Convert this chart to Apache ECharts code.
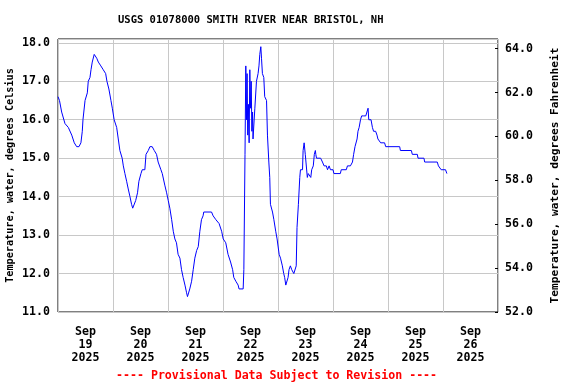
<!DOCTYPE html>
<html>
<head>
<meta charset="utf-8">
<script src="https://cdn.jsdelivr.net/npm/echarts@6/dist/echarts.min.js"></script>
<style>html,body{margin:0;padding:0;background:#fff;}#chart{width:576px;height:384px;}</style>
</head>
<body>
<div id="chart"></div>
<script>
// Hours since 2025-09-19 00:00
var hours = [0,0.65,1.6,3.05,4.5,6.0,7.1,8.15,9.15,10.0,10.6,10.9,11.8,12.8,13.2,13.95,14.4,14.95,15.8,16.9,17.6,18.7,19.75,20.8,21.35,22.2,23.1,23.7,24.5,25.6,26.3,27.0,28.0,28.5,29.2,29.95,30.65,31.4,32.1,32.6,33.3,33.9,34.7,35.3,36.2,36.75,37.9,38.4,39.4,40.1,41.1,42.0,43.0,43.7,44.9,45.5,46.6,47.4,48.1,48.8,49.6,50.3,51.0,51.7,52.4,53.2,53.9,54.6,55.4,56.1,56.5,57.2,57.5,58.3,59.0,59.7,60.5,61.2,61.9,62.6,63.3,63.6,67.0,67.7,68.9,70.3,71.4,72.1,73.2,74.2,75.3,76.2,76.7,77.6,78.6,79.0,80.8,81.1,81.6,81.95,82.25,82.5,82.8,83.1,83.4,83.7,84.0,84.3,84.6,84.9,85.1,85.9,86.6,87.3,87.7,88.05,88.5,88.8,89.2,89.8,90.2,91.0,91.4,92.0,92.4,92.7,93.6,94.2,95.0,95.6,96.5,97.1,97.9,98.5,98.9,99.4,99.95,100.4,100.8,101.4,102.0,102.9,103.7,103.95,104.3,104.9,105.5,105.8,106.7,106.95,107.4,107.9,108.2,108.8,109.2,109.7,110.3,110.7,111.4,111.85,112.3,112.5,112.8,114.6,115.4,116.1,117.1,117.6,118.3,118.9,120.0,120.4,123.2,123.6,125.8,126.3,127.6,128.5,129.0,129.6,130.5,130.9,131.4,132.0,132.5,133.4,134.3,134.8,135.3,135.6,136.0,136.6,137.2,137.7,138.6,139.2,139.6,140.4,140.8,142.5,143.0,149.1,149.4,154.2,154.6,156.8,157.1,159.7,160.0,165.5,166.0,167.2,169.1,169.7];
var tempC = [16.6,16.5,16.2,15.9,15.8,15.6,15.4,15.3,15.3,15.4,15.7,16.0,16.5,16.7,17.0,17.1,17.3,17.5,17.7,17.6,17.5,17.4,17.3,17.2,17.0,16.8,16.5,16.3,16.0,15.8,15.5,15.2,15.0,14.8,14.6,14.4,14.2,14.0,13.8,13.7,13.7,13.9,14.1,14.4,14.6,14.7,14.7,15.1,15.2,15.3,15.3,15.2,15.1,14.9,14.7,14.6,14.3,14.1,13.9,13.7,13.4,13.1,12.9,12.8,12.5,12.4,12.1,11.9,11.7,11.5,11.4,11.4,11.6,11.8,12.1,12.4,12.6,12.7,13.1,13.4,13.5,13.6,13.6,13.5,13.4,13.3,13.1,12.9,12.8,12.5,12.3,12.1,11.9,11.8,11.7,11.6,11.6,12.1,15.1,17.4,16.0,17.2,15.6,16.4,15.4,17.3,16.3,17.0,15.7,16.2,15.5,16.3,17.0,17.2,17.4,17.7,17.9,17.6,17.2,17.1,16.6,16.5,15.6,14.9,14.5,13.8,13.6,13.4,13.1,12.9,12.5,12.4,12.2,12.0,11.9,11.7,11.7,11.9,12.1,12.2,12.1,12.0,12.0,12.2,13.2,13.8,14.5,14.7,14.7,15.2,15.4,15.1,14.9,14.5,14.6,14.6,14.5,14.7,14.8,15.1,15.2,15.1,15.0,15.0,14.9,14.8,14.8,14.7,14.8,14.7,14.7,14.6,14.6,14.7,14.7,14.8,14.8,14.9,15.1,15.3,15.5,15.7,15.8,16.0,16.1,16.1,16.1,16.2,16.3,16.0,16.0,16.0,15.8,15.7,15.7,15.6,15.5,15.5,15.4,15.4,15.3,15.3,15.2,15.2,15.1,15.1,15.0,15.0,14.9,14.9,14.8,14.7,14.7,14.6];
var dayLabels = ['Sep\n19\n2025','Sep\n20\n2025','Sep\n21\n2025','Sep\n22\n2025','Sep\n23\n2025','Sep\n24\n2025','Sep\n25\n2025','Sep\n26\n2025'];
var celsiusTicks = [11,12,13,14,15,16,17,18];
var fahrenheitTicks = [52,54,56,58,60,62,64];

var FONT = 'DejaVu Sans Mono';
var points = hours.map(function (h, i) { return [h, tempC[i]]; });
var chart = echarts.init(document.getElementById('chart'), null, {renderer: 'canvas'});
chart.setOption({
  animation: false,
  backgroundColor: '#ffffff',
  title: [
    {text: 'USGS 01078000 SMITH RIVER NEAR BRISTOL, NH', left: 118, top: 15, padding: 0,
     textStyle: {fontFamily: FONT, fontSize: 10.5, fontWeight: 'bold', color: '#000'}},
    {text: '---- Provisional Data Subject to Revision ----', left: 116, top: 370, padding: 0,
     textStyle: {fontFamily: FONT, fontSize: 11.6, fontWeight: 'bold', color: '#ff0000'}}
  ],
  grid: {left: 58, right: 78, top: 39, bottom: 72, show: true, borderColor: '#000', borderWidth: 1,
         backgroundColor: 'transparent', containLabel: false, outerBoundsMode: 'none'},
  xAxis: [
    {type: 'value', min: 0, max: 192, interval: 24, axisLine: {show: false}, axisTick: {show: false},
     axisLabel: {show: false}, splitLine: {show: true, lineStyle: {color: '#c8c8c8', width: 1}}},
    {type: 'category', data: dayLabels, boundaryGap: true, position: 'bottom', axisLine: {show: false},
     axisTick: {show: false}, splitLine: {show: false},
     axisLabel: {interval: 0, margin: 13, lineHeight: 13, fontFamily: FONT, fontSize: 11.6, fontWeight: 'bold', color: '#000'}}
  ],
  yAxis: [
    {type: 'value', position: 'left', min: 11, max: 18.1, interval: 1,
     axisLine: {show: false}, axisTick: {show: false},
     axisLabel: {customValues: celsiusTicks, margin: 8, fontFamily: FONT, fontSize: 11.6, fontWeight: 'bold', color: '#000',
       formatter: function (v) { return v.toFixed(1); }},
     splitLine: {show: true, lineStyle: {color: '#c8c8c8', width: 1}},
     name: 'Temperature, water, degrees Celsius', nameLocation: 'middle', nameGap: 43, nameMoveOverlap: false,
     nameTextStyle: {fontFamily: FONT, fontSize: 10.2, fontWeight: 'bold', color: '#000'}},
    {type: 'value', position: 'right', min: 52, max: 64.44, interval: 2,
     axisLine: {show: false},
     axisTick: {show: true, inside: true, length: 3, customValues: fahrenheitTicks, lineStyle: {color: '#000'}},
     axisLabel: {customValues: fahrenheitTicks, margin: 7, fontFamily: FONT, fontSize: 11.6, fontWeight: 'bold', color: '#000',
       formatter: function (v) { return v.toFixed(1); }},
     splitLine: {show: false},
     name: 'Temperature, water, degrees Fahrenheit', nameLocation: 'middle', nameGap: 52, nameMoveOverlap: false,
     nameTextStyle: {fontFamily: FONT, fontSize: 11.2, fontWeight: 'bold', color: '#000'}}
  ],
  series: [
    {type: 'line', xAxisIndex: 0, yAxisIndex: 0, data: points, showSymbol: false, symbol: 'none',
     lineStyle: {color: '#0000ff', width: 1}, silent: true}
  ]
});
</script>
</body>
</html>
